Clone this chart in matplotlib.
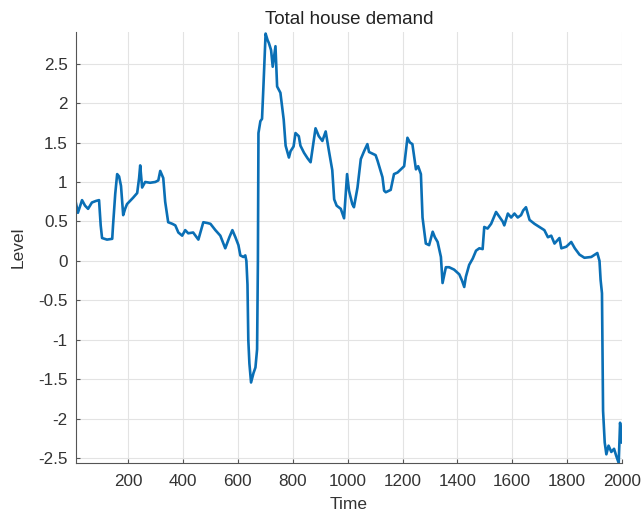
import matplotlib
matplotlib.use("Agg")
import matplotlib.pyplot as plt
import numpy as np

plt.rcParams['font.family'] = ['Liberation Sans', 'DejaVu Sans']
plt.rcParams['axes.unicode_minus'] = False

title = "Total house demand"
xlabel = "Time"
ylabel = "Level"

time = [10, 17, 32, 43, 54, 68, 83, 94, 100, 105, 123, 142, 145, 153, 160, 167, 174, 182,
        189, 196, 207, 218, 233, 240, 244, 251, 262, 280, 299, 310, 317, 328, 335, 346,
        361, 372, 383, 397, 408, 419, 437, 456, 474, 489, 500, 518, 536, 554, 569, 580,
        591, 602, 609, 620, 627, 631, 635, 638, 642, 648, 657, 664, 670, 673, 675, 682,
        688, 693, 701, 708, 713, 721, 727, 737, 743, 755, 767, 774, 786, 792, 803, 810,
        822, 828, 841, 854, 865, 883, 895, 908, 920, 932, 944, 951, 960, 975, 987, 998,
        1005, 1017, 1023, 1036, 1048, 1060, 1072, 1078, 1084, 1102, 1109, 1127, 1133,
        1139, 1157, 1169, 1182, 1194, 1206, 1218, 1227, 1236, 1249, 1257, 1267, 1273,
        1285, 1297, 1310, 1318, 1328, 1340, 1346, 1358, 1370, 1388, 1407, 1417, 1425,
        1431, 1443, 1456, 1468, 1480, 1492, 1498, 1510, 1523, 1535, 1541, 1553, 1565,
        1571, 1584, 1596, 1608, 1620, 1632, 1640, 1650, 1663, 1681, 1699, 1717, 1730,
        1742, 1754, 1772, 1779, 1797, 1815, 1828, 1845, 1863, 1888, 1910, 1918, 1922,
        1927, 1931, 1937, 1943, 1951, 1961, 1971, 1979, 1988, 1993, 1997, 2000]
level = [0.73, 0.61, 0.77, 0.70, 0.66, 0.74, 0.76, 0.77, 0.45, 0.29, 0.27, 0.28, 0.45,
         0.85, 1.10, 1.07, 0.95, 0.58, 0.66, 0.72, 0.76, 0.80, 0.86, 1.05, 1.21, 0.93,
         1.00, 0.99, 1.00, 1.02, 1.14, 1.05, 0.75, 0.49,
         0.47, 0.45, 0.36, 0.32, 0.39, 0.35, 0.36, 0.27, 0.49, 0.48, 0.47, 0.39, 0.32,
         0.16, 0.30, 0.39, 0.30, 0.20, 0.07, 0.05, 0.07, 0.00, -0.30, -1.00, -1.30,
         -1.54, -1.42, -1.35, -1.12, 0.00, 1.62, 1.77, 1.80, 2.20, 2.88, 2.80, 2.76,
         2.67, 2.46, 2.72, 2.21, 2.13, 1.79, 1.46, 1.31, 1.39, 1.45, 1.62, 1.58, 1.46,
         1.37, 1.30, 1.25, 1.68, 1.58, 1.52, 1.64, 1.39, 1.15, 0.78, 0.70, 0.66, 0.54,
         1.10, 0.89, 0.72, 0.68, 0.93, 1.29, 1.39, 1.48, 1.38, 1.37, 1.34, 1.27, 1.06,
         0.89, 0.87, 0.90, 1.10, 1.12, 1.16, 1.20, 1.56, 1.50, 1.48, 1.16, 1.20, 1.10,
         0.55, 0.22, 0.20, 0.37, 0.30, 0.24, 0.05, -0.28, -0.08, -0.08, -0.11, -0.17,
         -0.25, -0.33, -0.20, -0.05, 0.03, 0.13, 0.16, 0.15, 0.43, 0.41, 0.47, 0.57,
         0.62, 0.56, 0.50, 0.45, 0.60, 0.55, 0.60, 0.55, 0.58, 0.64, 0.68, 0.52, 0.47,
         0.43, 0.39, 0.30, 0.32, 0.22, 0.29, 0.16, 0.18, 0.24, 0.16, 0.08, 0.04, 0.05,
         0.10, 0.00, -0.24, -0.41, -1.90, -2.30, -2.45, -2.34, -2.42, -2.38, -2.47,
         -2.56, -2.05, -2.20, -2.30]

xticks = [200, 400, 600, 800, 1000, 1200, 1400, 1600, 1800, 2000]
yticks = [-2.5, -2, -1.5, -1, -0.5, 0, 0.5, 1, 1.5, 2, 2.5]
ytick_labels = ["-2.5", "-2", "-1.5", "-1", "-0.5", "0", "0.5", "1", "1.5", "2", "2.5"]

fig = plt.figure(figsize=(6.43, 5.18), dpi=100)
ax = fig.add_axes([76/643, 1 - 463/518, (622-76)/643, (463-32)/518])

ax.plot(time, level, color='#0a6fb5', lw=1.9)

ax.set_xlim(min(time), 2000)
ax.set_ylim(min(level), max(level) + 0.02)
ax.set_xticks(xticks)
ax.set_xticklabels([str(t) for t in xticks])
ax.set_yticks(yticks)
ax.set_yticklabels(ytick_labels)

ax.grid(True, color='#e3e3e3', lw=0.8)
ax.set_axisbelow(True)
for s in ['top', 'right']:
    ax.spines[s].set_visible(False)
for s in ['left', 'bottom']:
    ax.spines[s].set_color('#555555')
    ax.spines[s].set_linewidth(0.8)
ax.tick_params(direction='in', length=3, width=0.8, color='#555555',
               labelsize=12.3, labelcolor='#333333')
ax.tick_params(axis='x', pad=8)
ax.tick_params(axis='y', pad=6)

ax.set_title(title, fontsize=13.5, color='#222222', pad=6)
ax.set_xlabel(xlabel, fontsize=12.5, color='#333333', labelpad=6)
ax.set_ylabel(ylabel, fontsize=12.5, color='#333333', labelpad=9)

fig.savefig("out.png", dpi=100)
